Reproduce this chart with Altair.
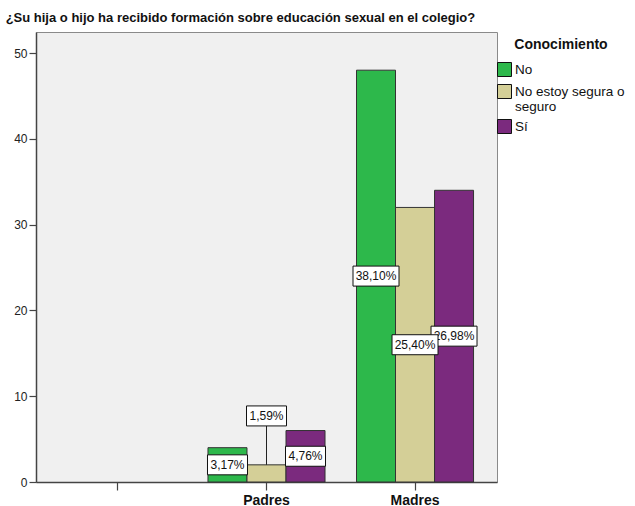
import altair as alt
import pandas as pd

# ---- data ----
grupos = ["", "Padres", "Madres"]
series = ["No", "No estoy segura o seguro", "Sí"]
valores_padres = [4, 2, 6]
valores_madres = [48, 32, 34]
colores = ["#2db84b", "#d4cf97", "#7b2a7e"]
y_ticks = [0, 10, 20, 30, 40, 50]
titulo = "¿Su hija o hijo ha recibido formación sobre educación sexual en el colegio?"
titulo_leyenda = "Conocimiento"

total = sum(valores_padres) + sum(valores_madres)

rows = []
for g, vals in (("Padres", valores_padres), ("Madres", valores_madres)):
    for s, v in zip(series, vals):
        pct = f"{v / total * 100:.2f}".replace(".", ",") + "%"
        rows.append({"grupo": g, "serie": s, "valor": v, "pct": pct})
df = pd.DataFrame(rows)

W, H = 461, 450
YMAX = 52.45
px = H / YMAX           # pixels per data unit
BOX_H = 20 / px         # label box height in data units
RAISE = 5.7             # raise for labels that do not fit in the bar

df["raised"] = df["valor"] * px < 20
df["ly"] = [v + RAISE if r else v / 2 for v, r in zip(df["valor"], df["raised"])]
df["lo"] = df["ly"] - BOX_H / 2
df["hi"] = df["ly"] + BOX_H / 2

FONT = "Liberation Sans"

x_enc = alt.X("grupo:N", scale=alt.Scale(domain=grupos, paddingInner=0.212, paddingOuter=0.158),
              axis=alt.Axis(title=None, labelAngle=0, labelFontWeight="bold", labelFontSize=14,
                            labelPadding=3, tickSize=8, labelColor="#111"))
xo_enc = alt.XOffset("serie:N", scale=alt.Scale(domain=series, paddingInner=0, paddingOuter=0))
y_scale = alt.Scale(domain=[0, YMAX], nice=False, zero=True)

base = alt.Chart(df)

bars = base.mark_bar(stroke="#333333", strokeWidth=1).encode(
    x=x_enc,
    xOffset=xo_enc,
    y=alt.Y("valor:Q", scale=y_scale,
            axis=alt.Axis(title=None, values=y_ticks, tickSize=7, labelFontSize=12,
                          labelPadding=2, labelColor="#222")),
    color=alt.Color("serie:N", scale=alt.Scale(domain=series, range=colores),
                    legend=alt.Legend(
                        title=titulo_leyenda, orient="none", legendX=W, legendY=6,
                        titleFontSize=14, titleFontWeight="bold", titleAnchor="middle",
                        titleColor="#111", titlePadding=10,
                        labelFontSize=13.5, labelColor="#111", labelOffset=3,
                        symbolType="square", symbolSize=196, symbolStrokeColor="#111",
                        symbolStrokeWidth=1, rowPadding=3, padding=0,
                        labelExpr="datum.label == 'No estoy segura o seguro' ? ['No estoy segura o', 'seguro'] : datum.label",
                    )),
)

leader = base.transform_filter("datum.raised").mark_rule(color="#222", strokeWidth=1).encode(
    x=x_enc, xOffset=xo_enc,
    y=alt.Y("valor:Q", scale=y_scale), y2="lo:Q",
)

layers = [bars, leader]
# draw label boxes one by one (purple before tan so the tan box sits on top)
order = [0, 2, 1, 3, 5, 4]
for i in order:
    r = df.iloc[i]
    wbox = 46 if len(r["pct"]) >= 6 else 40
    sel = base.transform_filter(
        f"datum.grupo == '{r['grupo']}' && datum.serie == '{r['serie']}'")
    box = sel.mark_bar(width=wbox, fill="white", stroke="#111", strokeWidth=1).encode(
        x=x_enc, xOffset=xo_enc,
        y=alt.Y("lo:Q", scale=y_scale), y2="hi:Q",
    )
    txt = sel.mark_text(fontSize=12, font=FONT, color="#111").encode(
        x=x_enc, xOffset=xo_enc,
        y=alt.Y("ly:Q", scale=y_scale),
        text="pct:N",
    )
    layers += [box, txt]

chart = alt.layer(*layers).properties(
    width=W, height=H,
    title=alt.TitleParams(titulo, anchor="start", dx=-8, offset=7, fontSize=13,
                          fontWeight="bold", font=FONT, color="#111"),
    autosize=alt.AutoSizeParams(type="none"),
    padding={"left": 36, "top": 32, "right": 138, "bottom": 24},
).configure_view(
    fill="#f0f0f0", stroke="#8a8a8a", strokeWidth=1
).configure_axis(
    domainColor="#444", domainWidth=1.5, tickColor="#444", tickWidth=1.2,
    grid=False, labelFont=FONT,
).configure_legend(
    labelFont=FONT, titleFont=FONT,
).configure_text(font=FONT)

chart.save("out.html", embed_options={"renderer": "svg", "actions": False})
